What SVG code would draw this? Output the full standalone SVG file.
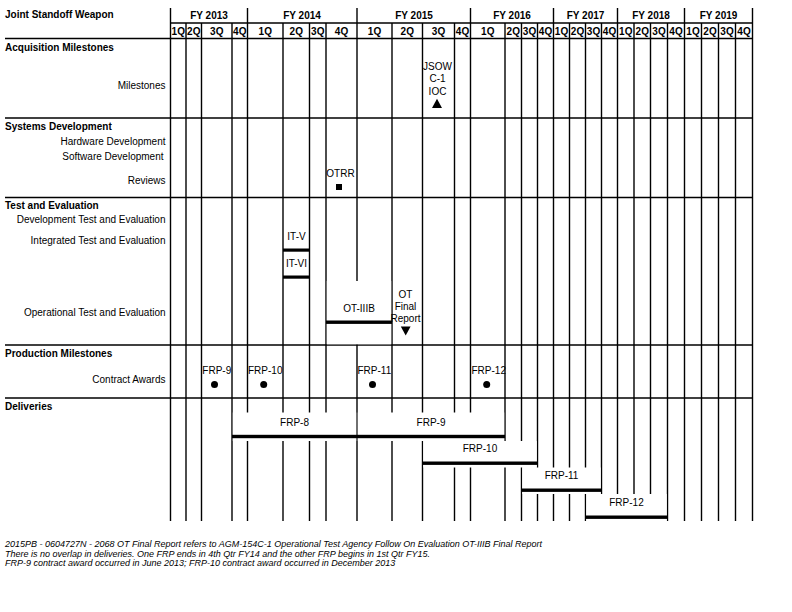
<svg xmlns="http://www.w3.org/2000/svg" width="792" height="612" viewBox="0 0 792 612">
<style>
text{font-family:"Liberation Sans",Arial,sans-serif;font-size:10px;fill:#000}
.b{font-weight:bold}
.c{text-anchor:middle}
.r{text-anchor:end}
.fn{font-size:9px;font-style:italic}
.g line{stroke:#000;stroke-width:1.4}
.mask{fill:#fff}
.bar{fill:#000}
</style>
<rect width="792" height="612" fill="#fff"/>
<g id="connectors" class="g">
<g id="fy-lines">
<line x1="170.5" y1="8" x2="170.5" y2="521"/>
<line x1="247.5" y1="8" x2="247.5" y2="521"/>
<line x1="357" y1="8" x2="357" y2="521"/>
<line x1="470.5" y1="8" x2="470.5" y2="521"/>
<line x1="553.5" y1="8" x2="553.5" y2="521"/>
<line x1="617.5" y1="8" x2="617.5" y2="521"/>
<line x1="684.5" y1="8" x2="684.5" y2="521"/>
<line x1="752.5" y1="8" x2="752.5" y2="521"/>
</g>
<g id="q-lines">
<line x1="186" y1="23" x2="186" y2="521"/>
<line x1="201.5" y1="23" x2="201.5" y2="521"/>
<line x1="232" y1="23" x2="232" y2="521"/>
<line x1="283" y1="23" x2="283" y2="521"/>
<line x1="309.5" y1="23" x2="309.5" y2="521"/>
<line x1="326" y1="23" x2="326" y2="521"/>
<line x1="392" y1="23" x2="392" y2="521"/>
<line x1="422.5" y1="23" x2="422.5" y2="521"/>
<line x1="454.5" y1="23" x2="454.5" y2="521"/>
<line x1="505" y1="23" x2="505" y2="521"/>
<line x1="521.5" y1="23" x2="521.5" y2="521"/>
<line x1="537.5" y1="23" x2="537.5" y2="521"/>
<line x1="569.5" y1="23" x2="569.5" y2="521"/>
<line x1="585.5" y1="23" x2="585.5" y2="521"/>
<line x1="601.5" y1="23" x2="601.5" y2="521"/>
<line x1="634" y1="23" x2="634" y2="521"/>
<line x1="650.5" y1="23" x2="650.5" y2="521"/>
<line x1="667.5" y1="23" x2="667.5" y2="521"/>
<line x1="701.5" y1="23" x2="701.5" y2="521"/>
<line x1="718.5" y1="23" x2="718.5" y2="521"/>
<line x1="735.5" y1="23" x2="735.5" y2="521"/>
</g>
<g id="h-lines">
<line x1="170.5" y1="23" x2="752.5" y2="23"/>
<line x1="5" y1="38.5" x2="752.5" y2="38.5"/>
<line x1="5" y1="118" x2="752.5" y2="118"/>
<line x1="5" y1="197.5" x2="752.5" y2="197.5"/>
<line x1="5" y1="345" x2="752.5" y2="345"/>
<line x1="5" y1="398" x2="752.5" y2="398"/>
</g>
</g>
<g id="header">
<text class="b" x="5" y="18">Joint Standoff Weapon</text>
<text class="b c" x="209" y="18.5">FY 2013</text>
<text class="b c" x="302" y="18.5">FY 2014</text>
<text class="b c" x="414" y="18.5">FY 2015</text>
<text class="b c" x="512" y="18.5">FY 2016</text>
<text class="b c" x="585.5" y="18.5">FY 2017</text>
<text class="b c" x="651" y="18.5">FY 2018</text>
<text class="b c" x="718.5" y="18.5">FY 2019</text>
<g id="quarters">
<text class="b c" x="178.25" y="35">1Q</text><text class="b c" x="193.75" y="35">2Q</text><text class="b c" x="216.75" y="35">3Q</text><text class="b c" x="239.75" y="35">4Q</text>
<text class="b c" x="265.25" y="35">1Q</text><text class="b c" x="296.25" y="35">2Q</text><text class="b c" x="317.75" y="35">3Q</text><text class="b c" x="341.5" y="35">4Q</text>
<text class="b c" x="374.5" y="35">1Q</text><text class="b c" x="407.25" y="35">2Q</text><text class="b c" x="438.5" y="35">3Q</text><text class="b c" x="462.5" y="35">4Q</text>
<text class="b c" x="487.75" y="35">1Q</text><text class="b c" x="513.25" y="35">2Q</text><text class="b c" x="529.5" y="35">3Q</text><text class="b c" x="545.5" y="35">4Q</text>
<text class="b c" x="561.5" y="35">1Q</text><text class="b c" x="577.5" y="35">2Q</text><text class="b c" x="593.5" y="35">3Q</text><text class="b c" x="609.5" y="35">4Q</text>
<text class="b c" x="625.75" y="35">1Q</text><text class="b c" x="642.25" y="35">2Q</text><text class="b c" x="659" y="35">3Q</text><text class="b c" x="676" y="35">4Q</text>
<text class="b c" x="693" y="35">1Q</text><text class="b c" x="710" y="35">2Q</text><text class="b c" x="727" y="35">3Q</text><text class="b c" x="744" y="35">4Q</text>
</g>
</g>
<g id="acquisition">
<text class="b" x="5" y="50.5">Acquisition Milestones</text>
<text class="r" x="165.5" y="88.5">Milestones</text>
<g id="jsow-ioc">
<text class="c" x="437.5" y="70">JSOW</text>
<text class="c" x="437.5" y="82">C-1</text>
<text class="c" x="437.5" y="94.5">IOC</text>
<polygon points="432,108 442,108 437,98.8" fill="#000"/>
</g>
</g>
<g id="systems">
<text class="b" x="5" y="129.5">Systems Development</text>
<text class="r" x="165.5" y="145">Hardware Development</text>
<text class="r" x="163.5" y="159.5">Software Development</text>
<text class="r" x="165.5" y="183.5">Reviews</text>
<g id="otrr">
<text class="c" x="340.5" y="177">OTRR</text>
<rect x="336" y="184" width="6" height="6" fill="#000"/>
</g>
</g>
<g id="test">
<text class="b" x="5" y="208.5">Test and Evaluation</text>
<text class="r" x="165.5" y="223">Development Test and Evaluation</text>
<text class="r" x="165.5" y="244">Integrated Test and Evaluation</text>
<text class="r" x="165.5" y="316">Operational Test and Evaluation</text>
<g id="it-v">
<text class="c" x="296.5" y="239.5">IT-V</text>
<rect class="bar" x="283" y="248.5" width="26.5" height="3.2"/>
</g>
<g id="it-vi">
<text class="c" x="296.5" y="267">IT-VI</text>
<rect class="bar" x="283" y="275.5" width="26.5" height="3.2"/>
</g>
<g id="ot-iiib">
<rect class="mask" x="326.8" y="281" width="64.4" height="63.3"/>
<text class="c" x="359" y="312">OT-IIIB</text>
<rect class="bar" x="326" y="320.5" width="66" height="3.4"/>
</g>
<g id="ot-final-report">
<text class="c" x="405.5" y="297.5">OT</text>
<text class="c" x="405.5" y="309.5">Final</text>
<text class="c" x="405.5" y="322">Report</text>
<polygon points="400.8,326.5 410.6,326.5 405.7,335.5" fill="#000"/>
</g>
</g>
<g id="production">
<text class="b" x="5" y="356.5">Production Milestones</text>
<text class="r" x="165.5" y="382.5">Contract Awards</text>
<g id="award-frp9"><text x="202.3" y="373.5">FRP-9</text><circle cx="214.5" cy="384.5" r="3.5" fill="#000"/></g>
<g id="award-frp10"><text x="248" y="373.5">FRP-10</text><circle cx="263.7" cy="384.5" r="3.5" fill="#000"/></g>
<g id="award-frp11"><text x="357.5" y="373.5">FRP-11</text><circle cx="372.5" cy="384.5" r="3.5" fill="#000"/></g>
<g id="award-frp12"><text x="471.5" y="373.5">FRP-12</text><circle cx="486.7" cy="384.5" r="3.5" fill="#000"/></g>
</g>
<g id="deliveries">
<text class="b" x="5" y="409.5">Deliveries</text>
<g id="del-frp8">
<rect class="mask" x="232.8" y="412.5" width="123.4" height="28.5"/>
<text class="c" x="294.5" y="425.5">FRP-8</text>
<rect class="bar" x="232" y="434.8" width="125" height="3.4"/>
</g>
<g id="del-frp9">
<rect class="mask" x="357.8" y="412.5" width="146.4" height="28.5"/>
<text class="c" x="431" y="425.5">FRP-9</text>
<rect class="bar" x="357" y="434.8" width="148" height="3.4"/>
</g>
<g id="del-frp10">
<rect class="mask" x="423.3" y="441" width="113.4" height="26.5"/>
<text class="c" x="480" y="452">FRP-10</text>
<rect class="bar" x="422.5" y="461.5" width="115" height="3.4"/>
</g>
<g id="del-frp11">
<rect class="mask" x="522.3" y="467.5" width="78.4" height="26.5"/>
<text class="c" x="561.5" y="479">FRP-11</text>
<rect class="bar" x="521.5" y="488.5" width="80" height="3.4"/>
</g>
<g id="del-frp12">
<rect class="mask" x="586.3" y="494" width="80.4" height="27"/>
<text class="c" x="626.5" y="506">FRP-12</text>
<rect class="bar" x="585.5" y="515.5" width="82" height="3.4"/>
</g>
</g>
<g id="footnotes">
<text class="fn" x="5" y="547">2015PB - 0604727N - 2068 OT Final Report refers to AGM-154C-1 Operational Test Agency Follow On Evaluation OT-IIIB Final Report</text>
<text class="fn" x="5" y="556.5">There is no overlap in deliveries. One FRP ends in 4th Qtr FY14 and the other FRP begins in 1st Qtr FY15.</text>
<text class="fn" x="5" y="566">FRP-9 contract award occurred in June 2013; FRP-10 contract award occurred in December 2013</text>
</g>
</svg>
